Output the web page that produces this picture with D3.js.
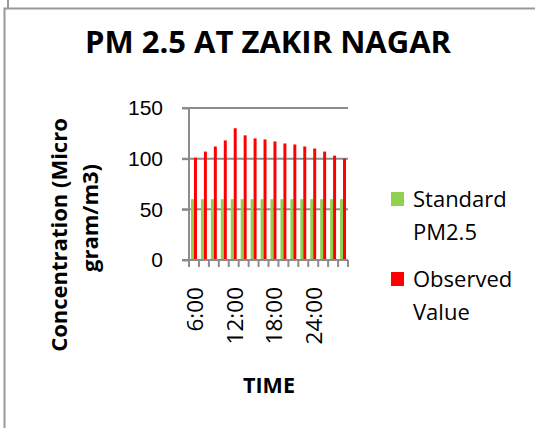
<!DOCTYPE html>
<html>
<head>
<meta charset="utf-8">
<script src="https://cdn.jsdelivr.net/npm/d3@7"></script>
<style>
  body { margin: 0; background: #fff; }
  svg { display: block; font-family: "Open Sans", sans-serif; }
</style>
</head>
<body>
<svg id="chart" width="535" height="428"></svg>
<script>
// chart values
var times = ["6:00", "7:30", "9:00", "10:30", "12:00", "13:30", "15:00", "16:30",
             "18:00", "19:30", "21:00", "22:30", "24:00", "1:30", "3:00", "4:30"];
var standardPM25 = [60, 60, 60, 60, 60, 60, 60, 60, 60, 60, 60, 60, 60, 60, 60, 60];
var observedValue = [101, 107, 112, 118, 130, 123, 120, 119, 117, 115, 114, 112, 110, 107, 103, 100];
var yTicks = [0, 50, 100, 150];
var shownLabels = ["6:00", "12:00", "18:00", "24:00"];
var seriesNames = ["Standard PM2.5", "Observed Value"];
var seriesColors = ["#92d050", "#ff0000"];

var svg = d3.select("#chart");
var grey = "#8c8c8c";

//------------------------------------------------------------------------------
// frame
//------------------------------------------------------------------------------
svg.append("line").attr("x1", 8).attr("x2", 8).attr("y1", 0).attr("y2", 8)
    .attr("stroke", "#999").attr("stroke-width", 2);
svg.append("path")
    .attr("d", "M4.5,428V8.5H535")
    .attr("fill", "none").attr("stroke", "#999").attr("stroke-width", 2);

svg.append("text")
    .attr("x", 268).attr("y", 53)
    .attr("text-anchor", "middle")
    .attr("font-weight", "bold").attr("font-size", 31)
    .text("PM 2.5 AT ZAKIR NAGAR");

//------------------------------------------------------------------------------
// scales
//------------------------------------------------------------------------------
var plot = { left: 189, right: 348, top: 108, bottom: 260 };

var x = d3.scaleBand().domain(times).range([plot.left, plot.right]);
var inner = d3.scaleBand().domain(seriesNames)
    .range([x.bandwidth() * 0.2, x.bandwidth() * 0.8]);
var y = d3.scaleLinear().domain([0, 150]).range([plot.bottom, plot.top]);

// gridlines
svg.append("g").selectAll("line").data(yTicks.slice(1)).join("line")
    .attr("x1", plot.left - 7).attr("x2", plot.right)
    .attr("y1", function(d) { return y(d); })
    .attr("y2", function(d) { return y(d); })
    .attr("stroke", grey).attr("stroke-width", 2);

// bars
var seriesData = [standardPM25, observedValue];
seriesData.forEach(function(vals, si) {
    svg.append("g").selectAll("rect").data(vals).join("rect")
        .attr("x", function(d, i) { return x(times[i]) + inner(seriesNames[si]); })
        .attr("width", inner.bandwidth())
        .attr("y", function(d) { return y(d); })
        .attr("height", function(d) { return y(0) - y(d); })
        .attr("fill", seriesColors[si]);
});

// y axis
var yAxis = svg.append("g")
    .attr("transform", "translate(" + plot.left + ",0)")
    .call(d3.axisLeft(y).tickValues(yTicks).tickSize(7).tickPadding(19));
yAxis.select(".domain").attr("stroke", grey).attr("stroke-width", 2)
    .attr("d", "M-7," + plot.top + "H0V" + plot.bottom + "H-7");
yAxis.selectAll(".tick line").attr("stroke", grey).attr("stroke-width", 2);
yAxis.selectAll("text").attr("font-size", 21).attr("fill", "#000")
    .attr("font-family", null);

// x axis
var edges = times.map(function(t) { return x(t); }).concat([plot.right]);
svg.append("g").selectAll("line").data(edges).join("line")
    .attr("x1", function(d) { return d; }).attr("x2", function(d) { return d; })
    .attr("y1", plot.bottom).attr("y2", plot.bottom + 7)
    .attr("stroke", grey).attr("stroke-width", 2);
svg.append("line")
    .attr("x1", plot.left - 7).attr("x2", plot.right)
    .attr("y1", plot.bottom).attr("y2", plot.bottom)
    .attr("stroke", grey).attr("stroke-width", 2);

svg.append("g").selectAll("text").data(shownLabels).join("text")
    .attr("transform", function(d) {
        return "translate(" + (x(d) + x.bandwidth() / 2 + 1) + "," + (plot.bottom + 27) + ") rotate(-90)";
    })
    .attr("text-anchor", "end")
    .attr("dy", "0.35em")
    .attr("font-size", 22.5)
    .text(function(d) { return d; });

// axis titles
svg.append("text")
    .attr("x", 269).attr("y", 393)
    .attr("text-anchor", "middle")
    .attr("font-weight", "bold").attr("font-size", 21.5)
    .text("TIME");

svg.append("text")
    .attr("transform", "translate(67,235) rotate(-90)")
    .attr("text-anchor", "middle")
    .attr("font-weight", "bold").attr("font-size", 22)
    .text("Concentration (Micro");
svg.append("text")
    .attr("transform", "translate(98,218) rotate(-90)")
    .attr("text-anchor", "middle")
    .attr("font-weight", "bold").attr("font-size", 22)
    .text("gram/m3)");

//------------------------------------------------------------------------------
// legend
//------------------------------------------------------------------------------
var legendLines = [["Standard", "PM2.5"], ["Observed", "Value"]];
var legend = svg.append("g").selectAll("g").data(seriesNames).join("g")
    .attr("transform", function(d, i) { return "translate(391," + (192 + i * 80) + ")"; });
legend.append("rect")
    .attr("width", 13).attr("height", 14)
    .attr("fill", function(d, i) { return seriesColors[i]; });
legend.append("text")
    .attr("font-size", 22)
    .each(function(d, i) {
        var t = d3.select(this);
        legendLines[i].forEach(function(line, j) {
            t.append("tspan").attr("x", 22).attr("y", 15 + j * 33).text(line);
        });
    });
</script>
</body>
</html>
